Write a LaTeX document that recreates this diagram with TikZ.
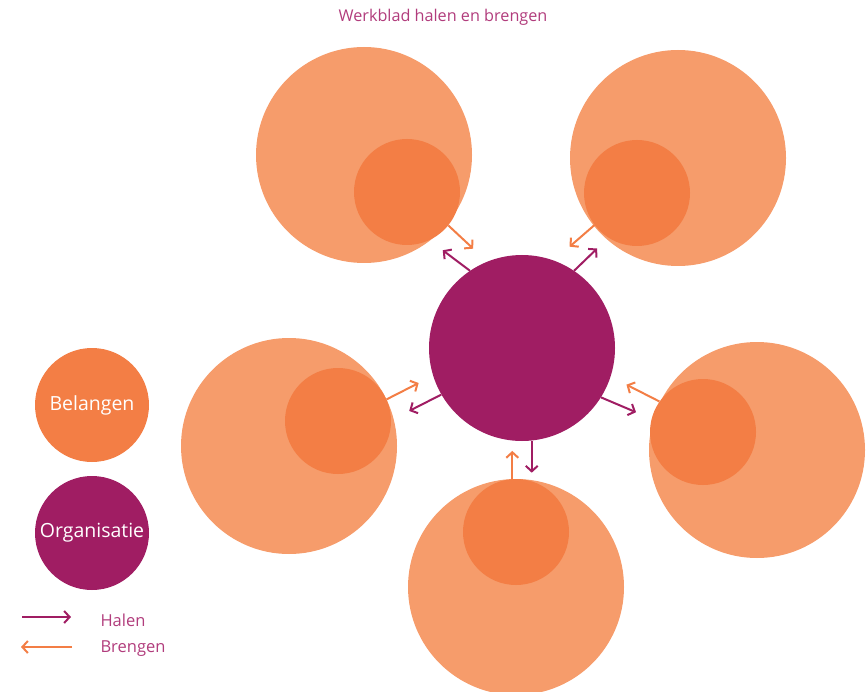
\documentclass[tikz,border=0pt]{standalone}
\usepackage{fontspec}
\setmainfont{Open Sans}
\usepackage{tikz}
\usetikzlibrary{arrows.meta}
\definecolor{licht}{HTML}{F69C6B}
\definecolor{belang}{HTML}{F37E45}
\definecolor{paars}{HTML}{A01D63}
\definecolor{tekst}{HTML}{B13C7C}

\begin{document}
\begin{tikzpicture}[x=1pt, y=-1pt,
  groot/.style={circle, fill=licht, minimum size=216pt, inner sep=0pt},
  klein/.style={circle, fill=belang, minimum size=106pt, inner sep=0pt},
  legenda/.style={circle, minimum size=114pt, inner sep=0pt, text=white, font=\fontsize{19.5}{22}\selectfont},
  halen/.style={-{Straight Barb[length=5.5pt, width=12pt]}, line width=2pt, paars},
  brengen/.style={-{Straight Barb[length=5.5pt, width=12pt]}, line width=2pt, belang},
  label/.style={text=tekst, font=\fontsize{16.5}{19}\selectfont, anchor=west}]
\useasboundingbox (0,0) rectangle (866,692);
\node[text=tekst, font=\fontsize{16.2}{19}\selectfont] (titel) at (443,17) {Werkblad halen en brengen};
% belangen rondom
\node[groot] (g1) at (364,155) {};
\node[groot] (g2) at (678,158) {};
\node[groot] (g3) at (289,446) {};
\node[groot] (g4) at (757,450) {};
\node[groot] (g5) at (516,587) {};
\node[klein] (k1) at (407,192) {};
\node[klein] (k2) at (637,193) {};
\node[klein] (k3) at (338,421) {};
\node[klein] (k4) at (703,432) {};
\node[klein] (k5) at (516,532) {};
\node[circle, fill=paars, minimum size=186pt, inner sep=0pt] (org) at (522,348) {};
% pijlen
\draw[brengen] (k1.-39) -- ++(-43:34pt);
\draw[halen] (org.124) -- ++(143:34pt);
\draw[brengen] (k2.217) -- ++(221:33pt);
\draw[halen] (org.56) -- ++(44:32pt);
\draw[brengen] (k3.24) -- ++(27:36pt);
\draw[halen] (org.210) -- ++(207:36pt);
\draw[halen] (org.-32) -- ++(-23:38pt);
\draw[brengen] (k4.145) -- ++(153:37pt);
\draw[brengen] (k5.94) -- ++(90:28pt);
\draw[halen] (org.276) -- ++(270:32pt);
% legenda
\node[legenda, fill=belang] (bel) at (92,405) {Belangen};
\node[legenda, fill=paars] (orgl) at (92,533) {Organisatie};
\coordinate (h1) at (22,617);
\coordinate (h2) at (71,617);
\coordinate (b1) at (72,647);
\coordinate (b2) at (21,647);
\draw[halen] (h1) -- (h2);
\draw[brengen] (b1) -- (b2);
\node[label] (hl) at (97,620) {Halen};
\node[label] (bl) at (97,649) {Brengen};
\end{tikzpicture}
\end{document}
